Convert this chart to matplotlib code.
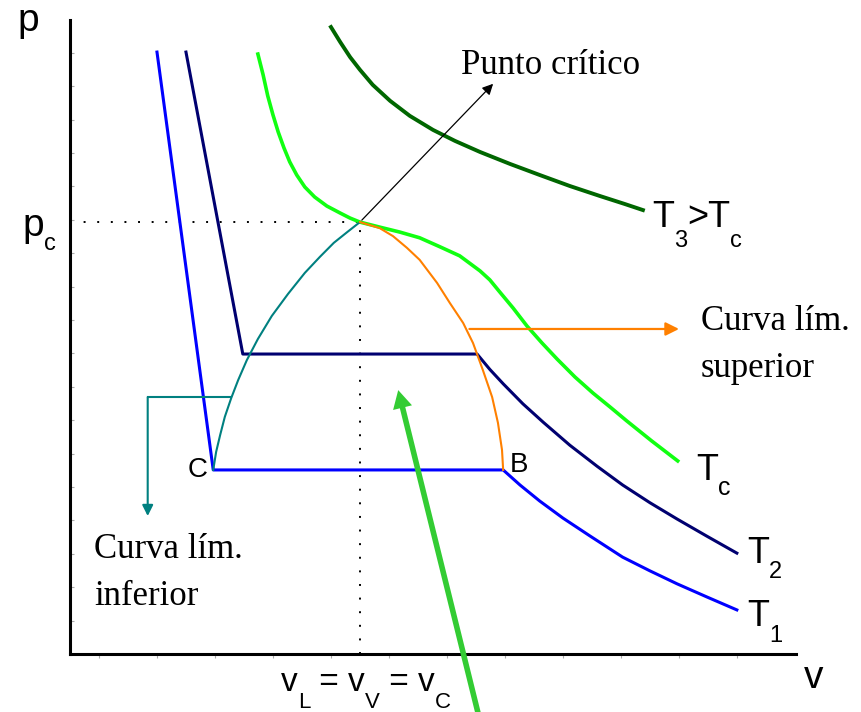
import matplotlib
matplotlib.use("Agg")
import matplotlib.pyplot as plt

# isotherms of a real gas in the p-v plane (v, p in arbitrary units)
t1_liq_v = [1.50, 2.47]
t1_liq_p = [18.02, 5.51]
t1_gas_v = [7.47, 7.76, 8.10, 8.50, 8.97, 9.53, 10.00, 10.47, 10.98, 11.50]
t1_gas_p = [5.51, 5.06, 4.58, 4.07, 3.53, 2.90, 2.49, 2.10, 1.71, 1.32]

t2_liq_v = [2.00, 2.98]
t2_liq_p = [18.02, 8.98]
t2_gas_v = [7.02, 7.24, 7.47, 7.81, 8.16, 8.62, 9.09, 9.53, 10.00, 10.47, 10.98, 11.50]
t2_gas_p = [8.98, 8.52, 8.09, 7.49, 6.94, 6.25, 5.62, 5.06, 4.53, 4.04, 3.53, 3.02]

tc_v = [3.24, 3.33, 3.41, 3.50, 3.59, 3.69, 3.79, 3.91, 4.05, 4.22, 4.43, 4.66, 4.83,
        5.00, 5.34, 5.69, 6.03, 6.38, 6.72, 7.07, 7.24, 7.41, 7.64, 7.88, 8.14, 8.40,
        8.71, 9.02, 9.31, 9.60, 10.03, 10.48]
tc_p = [17.96, 17.34, 16.71, 16.14, 15.63, 15.15, 14.73, 14.34, 13.98, 13.68, 13.41, 13.20,
        13.05, 12.93, 12.78, 12.63, 12.46, 12.19, 11.92, 11.47, 11.20, 10.84, 10.36, 9.82,
        9.31, 8.83, 8.29, 7.81, 7.40, 6.98, 6.38, 5.78]

t3_v = [4.50, 4.66, 4.83, 5.00, 5.22, 5.52, 5.86, 6.26, 6.64, 7.07, 7.59, 8.10, 8.62,
        9.14, 9.57, 9.88]
t3_p = [18.77, 18.32, 17.87, 17.49, 17.04, 16.56, 16.11, 15.69, 15.36, 15.03, 14.67, 14.34,
        14.01, 13.71, 13.47, 13.29]

# saturation dome
liq_v = [2.47, 2.52, 2.59, 2.67, 2.78, 2.90, 3.05, 3.24, 3.48, 3.76, 4.05, 4.31, 4.55,
         4.78, 5.00]
liq_p = [5.51, 6.05, 6.56, 7.10, 7.66, 8.20, 8.80, 9.43, 10.12, 10.78, 11.41, 11.89, 12.31,
         12.63, 12.93]
vap_v = [5.00, 5.34, 5.57, 5.81, 6.03, 6.33, 6.55, 6.78, 6.95, 7.12, 7.28, 7.38, 7.45, 7.47]
vap_p = [12.93, 12.75, 12.51, 12.16, 11.80, 11.11, 10.51, 9.91, 9.31, 8.50, 7.69, 6.92,
         6.11, 5.51]

v_c, p_c = 5.0, 12.93
v_max, p_max = 12.52, 18.98
v_ticks = [0.5 + i for i in range(12)]
p_ticks = list(range(1, 19))

fig = plt.figure(figsize=(8.61, 7.12), dpi=100)
ax = fig.add_axes([70 / 861, 58 / 712, 726 / 861, 634 / 712])
ax.set_xlim(0, v_max)
ax.set_ylim(0, p_max)
for side in ("top", "right"):
    ax.spines[side].set_visible(False)
for side in ("left", "bottom"):
    ax.spines[side].set_linewidth(2.2)
ax.set_xticks(v_ticks)
ax.set_yticks(p_ticks)
ax.tick_params(axis="x", direction="out", length=3, color="#aaaaaa", labelbottom=False)
ax.tick_params(axis="y", direction="in", length=3, color="#aaaaaa", labelleft=False)

dots = (0, (1, 6))
ax.plot([0, v_c], [p_c, p_c], color="black", lw=1.4, ls=dots)
ax.plot([v_c, v_c], [0, p_c], color="black", lw=1.4, ls=dots)

blue, navy = "#0000ff", "#000070"
ax.plot(t1_liq_v + t1_gas_v, t1_liq_p + t1_gas_p, color=blue, lw=2.2)
ax.plot(t2_liq_v + t2_gas_v, t2_liq_p + t2_gas_p, color=navy, lw=2.2)
ax.plot(tc_v, tc_p, color="#11ff11", lw=2.6)
ax.plot(t3_v, t3_p, color="#006600", lw=2.8)
ax.plot(liq_v, liq_p, color="#008080", lw=1.5)
ax.plot(vap_v, vap_p, color="#ff8000", lw=1.5)

# arrows pointing at the critical point and the two boundary curves
ax.annotate("", xy=(7.33, 17.13), xytext=(v_c, p_c),
            arrowprops=dict(arrowstyle="-|>", color="black", lw=0.9, mutation_scale=16))
ax.annotate("", xy=(10.55, 9.73), xytext=(6.84, 9.73),
            arrowprops=dict(arrowstyle="-|>", color="#ff8000", lw=1.6, mutation_scale=20))
ax.plot([2.76, 1.34], [7.69, 7.69], color="#008080", lw=1.5)
ax.annotate("", xy=(1.34, 4.13), xytext=(1.34, 7.69),
            arrowprops=dict(arrowstyle="-|>", color="#008080", lw=1.5, mutation_scale=16,
                            shrinkA=0, shrinkB=0))
ax.annotate("", xy=(5.66, 7.90), xytext=(7.07, -2.0), annotation_clip=False,
            arrowprops=dict(facecolor="#33cc33", edgecolor="none", width=4.0,
                            headwidth=14, headlength=13, shrink=0))

# overlay in pixel units for the labels
lab = fig.add_axes([0, 0, 1, 1])
lab.set_xlim(0, 861)
lab.set_ylim(712, 0)
lab.axis("off")
lab.patch.set_alpha(0)

sans = "Liberation Sans"
serif = "Liberation Serif"
renderer = fig.canvas.get_renderer()


def sub_text(x, y, parts, size, sub_size, drop):
    for s, is_sub in parts:
        t = lab.text(x, y + (drop if is_sub else 0), s, family=sans,
                     fontsize=sub_size if is_sub else size, va="baseline", ha="left")
        x += t.get_window_extent(renderer).width


sub_text(17, 31, [("p", False)], 28, 17, 0)
sub_text(22, 236, [("p", False), ("c", True)], 28, 17, 14)
sub_text(652, 227, [("T", False), ("3", True), (">T", False), ("c", True)], 26, 17, 20)
sub_text(696, 480, [("T", False), ("c", True)], 26, 18, 15)
sub_text(747, 563, [("T", False), ("2", True)], 26, 17, 15)
sub_text(747, 626, [("T", False), ("1", True)], 26, 17, 16)
sub_text(804, 688, [("v", False)], 28, 17, 0)
sub_text(281, 691, [("v", False), ("L", True), (" = v", False), ("V", True),
                    (" = v", False), ("C", True)], 24, 16, 17)
sub_text(188, 477, [("C", False)], 20, 14, 0)
sub_text(510, 472, [("B", False)], 20, 14, 0)

lab.text(461, 74, "Punto crítico", family=serif, fontsize=25, va="baseline")
lab.text(701, 330, "Curva lím.", family=serif, fontsize=25, va="baseline")
lab.text(701, 377, "superior", family=serif, fontsize=25, va="baseline")
lab.text(94, 558, "Curva lím.", family=serif, fontsize=25, va="baseline")
lab.text(94, 605, "inferior", family=serif, fontsize=25, va="baseline")

fig.savefig("out.png", dpi=100)
